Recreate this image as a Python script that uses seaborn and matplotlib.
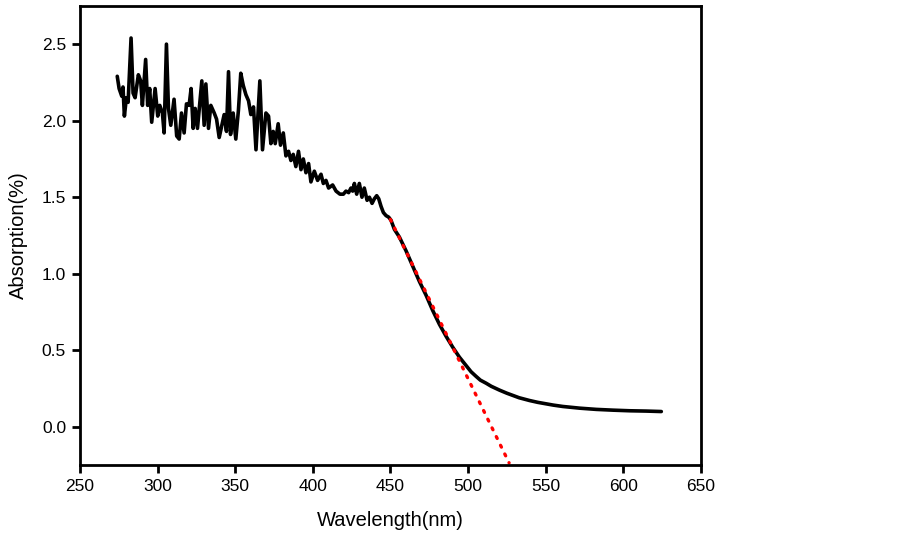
import matplotlib
matplotlib.use("Agg")
import matplotlib.pyplot as plt
import seaborn as sns
import numpy as np

wavelength = [
    274.0, 275.2, 276.9, 277.7, 278.6, 279.9, 281.0, 282.9, 284.2, 285.5,
    287.6, 289.1, 290.2, 292.3, 293.6, 294.9, 296.2, 298.4, 300.1, 301.4,
    303.1, 304.2, 305.7, 307.0, 308.5, 310.6, 312.3, 313.9, 315.4, 317.1,
    318.6, 320.3, 321.6, 322.9, 324.2, 325.7, 328.5, 330.0, 331.1, 332.8,
    334.3, 336.5, 338.0, 339.7, 341.4, 342.9, 344.4, 345.7, 347.0, 348.7,
    350.4, 352.1, 353.6, 355.2, 356.9, 358.6, 360.1, 361.8, 363.4, 365.9,
    367.6, 369.8, 371.5, 373.0, 374.5, 375.8, 377.7, 379.2, 381.0, 382.7,
    384.4, 385.9, 387.4, 389.1, 390.8, 392.4, 393.9, 395.6, 397.3, 398.8,
    401.0, 403.1, 405.3, 406.8, 408.5, 410.2, 412.8, 415.0, 417.5, 419.7,
    421.4, 423.1, 424.6, 425.7, 426.8, 428.3, 430.0, 431.7, 433.2, 435.0,
    436.5, 438.2, 439.7, 441.2, 442.5, 444.0, 445.5, 447.2, 448.9, 450.4,
    452.6, 455.8, 460.1, 464.4, 468.7, 473.0, 477.3, 481.6, 486.0, 490.2,
    494.5, 498.8, 502.0, 505.2, 508.0, 511.7, 515.0, 520.3, 525.0, 528.9,
    533.0, 539.7, 545.0, 550.4, 555.0, 561.2, 572.0,
    582.7, 593.4, 604.2, 614.9, 624.6,
]
absorption = [
    2.29, 2.21, 2.16, 2.22, 2.03, 2.15, 2.12, 2.54, 2.18, 2.15,
    2.30, 2.26, 2.10, 2.40, 2.10, 2.21, 1.99, 2.21, 2.03, 2.10,
    2.05, 1.92, 2.50, 2.08, 1.97, 2.14, 1.90, 1.88, 2.05, 1.92,
    2.11, 2.10, 2.21, 1.95, 2.08, 1.95, 2.26, 1.97, 2.24, 1.95,
    2.10, 2.05, 2.01, 1.89, 1.97, 2.04, 1.93, 2.32, 1.91, 2.05,
    1.88, 2.07, 2.31, 2.23, 2.17, 2.13, 2.04, 2.09, 1.81, 2.26,
    1.81, 2.05, 2.03, 1.85, 1.93, 1.85, 1.98, 1.84, 1.92, 1.77,
    1.80, 1.74, 1.78, 1.70, 1.80, 1.68, 1.75, 1.66, 1.72, 1.60,
    1.67, 1.61, 1.65, 1.59, 1.61, 1.56, 1.58, 1.54, 1.52, 1.52,
    1.54, 1.53, 1.56, 1.54, 1.59, 1.52, 1.59, 1.50, 1.56, 1.48,
    1.50, 1.46, 1.49, 1.51, 1.49, 1.44, 1.40, 1.38, 1.37, 1.35,
    1.29, 1.24, 1.15, 1.05, 0.95, 0.86, 0.76, 0.67, 0.59, 0.52,
    0.455, 0.40, 0.36, 0.33, 0.305, 0.285, 0.265, 0.24, 0.22, 0.205,
    0.19, 0.172, 0.16, 0.15, 0.142, 0.133, 0.122,
    0.114, 0.109, 0.105, 0.103, 0.100,
]
tangent_x = [450.0, 526.5]
tangent_y = [1.355, -0.235]

x_ticks = [250, 300, 350, 400, 450, 500, 550, 600, 650]
y_ticks = [0.0, 0.5, 1.0, 1.5, 2.0, 2.5]

sns.set_style("ticks")
plt.rcParams['font.family'] = ['Liberation Sans', 'DejaVu Sans']
plt.rcParams['text.color'] = 'black'
plt.rcParams['axes.labelcolor'] = 'black'

fig = plt.figure(figsize=(9.03, 5.34), dpi=100)
ax = fig.add_axes([0.0886, 0.129, 0.6874, 0.860])

sns.lineplot(x=wavelength, y=absorption, ax=ax, color='black', linewidth=2.6,
             sort=False, estimator=None)
sns.lineplot(x=tangent_x, y=tangent_y, ax=ax, color='red', linewidth=2.4,
             linestyle=(0, (0.6, 2.3)), sort=False, estimator=None)
ax.lines[0].set_solid_joinstyle('round')
for l in ax.lines[1:]:
    l.set_dash_capstyle('round')

ax.set_xlim(250, 650)
ax.set_ylim(-0.25, 2.75)
ax.set_xticks(x_ticks)
ax.set_yticks(y_ticks)
ax.set_yticklabels([f"{v:.1f}" for v in y_ticks])
ax.set_xticklabels([str(v) for v in x_ticks])
ax.tick_params(direction='out', length=6, width=2.0, labelsize=12.5, colors='black',
               labelcolor='black', top=False, right=False, pad=4)
for s in ax.spines.values():
    s.set_visible(True)
    s.set_linewidth(2.0)
    s.set_color('black')
ax.set_xlabel("Wavelength(nm)", fontsize=14.5, labelpad=12, color='black')
ax.set_ylabel("Absorption(%)", fontsize=14.5, labelpad=10, color='black')

fig.savefig("out.png", dpi=100)
